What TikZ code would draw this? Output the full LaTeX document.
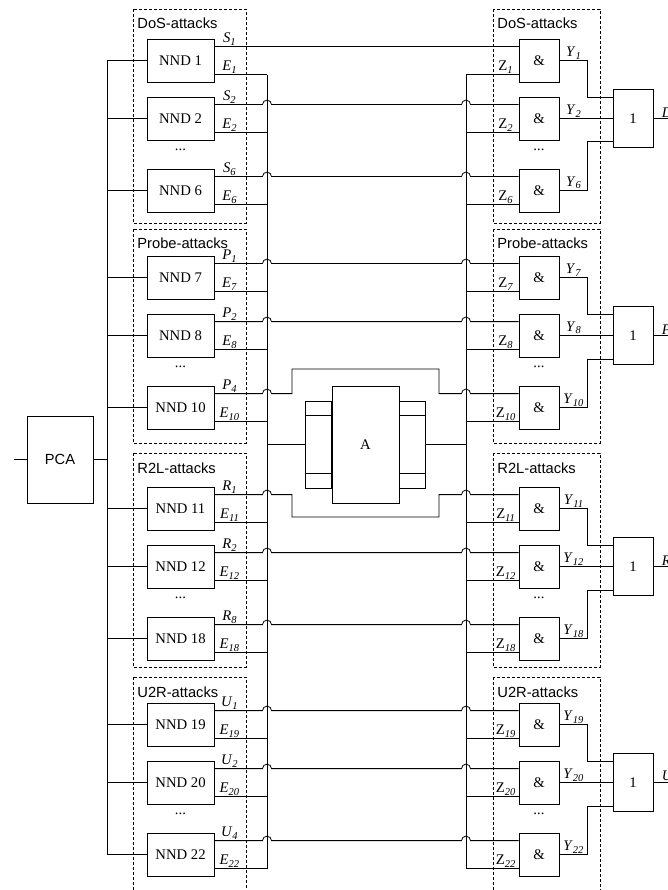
\documentclass[tikz,border=0pt]{standalone}
\usepackage{fontspec}
\setmainfont{Liberation Serif}
\setsansfont{Liberation Sans}
\usetikzlibrary{positioning}

\newcommand{\sgl}[2]{\textit{#1}\raisebox{-0.35ex}{\fontsize{10.5}{10.5}\selectfont\textit{#2}}}
\newcommand{\zsgl}[1]{Z\raisebox{-0.35ex}{\fontsize{10.5}{10.5}\selectfont\textit{#1}}}
\newcommand{\hopover}[1]{-- ([xshift=-4.5pt]#1) arc[start angle=180, end angle=0, radius=4.5]}

\begin{document}
\begin{tikzpicture}[x=1pt, y=1pt, line width=0.8pt,
    txt/.style={font=\fontsize{14.7}{16}\selectfont},
    nnd/.style={draw, txt, minimum width=67pt, minimum height=43pt, inner sep=0pt},
    gate/.style={draw, txt, minimum width=40pt, minimum height=43pt, inner sep=0pt},
    orbox/.style={draw, txt, minimum width=40pt, minimum height=58pt, inner sep=0pt},
    side/.style={draw, minimum width=26pt, minimum height=87pt, inner sep=0pt},
    grp/.style={draw, line width=0.7pt, dash pattern=on 3pt off 2pt},
    grptxt/.style={anchor=base west, inner sep=0pt, font=\sffamily\fontsize{14.7}{16}\selectfont},
    lbl/.style={txt, anchor=south, inner sep=1pt}
  ]
  \useasboundingbox (0,0) rectangle (668,-890);

  \coordinate (bus) at (107,0);
  \coordinate (ebus) at (267,0);
  \coordinate (zbus) at (466,0);
  \coordinate (yv) at (587,0);
  \coordinate (lpA) at (292,-369);
  \coordinate (lpB) at (439,-369);
  \coordinate (lpC) at (292,-517);
  \coordinate (lpD) at (439,-517);

  \node[draw, minimum width=66pt, minimum height=87pt, inner sep=0pt,
    font=\sffamily\fontsize{14.7}{16}\selectfont] (pca) at (60,-459.5) {PCA};
  \coordinate (in) at (14,-459.5);
  \draw (in) -- (pca.west);
  \draw (pca.east) -- (pca.east -| bus);

  \foreach \gi/\gt/\bt/\gname/\sg/\out/\rows in {
      1/9/39/DoS/S/D/{1/1,2/2,6/6},
      2/229/256/Probe/P/P/{7/1,8/2,10/4},
      3/453/487/R2L/R/R/{11/1,12/2,18/8},
      4/677/703/U2R/U/U/{19/1,20/2,22/4}}{
    \draw[grp] (133,-\gt) rectangle (246,{-\gt-214});
    \draw[grp] (493,-\gt) rectangle (600,{-\gt-214});
    \node[grptxt] (gl\gi) at (137,{-\gt-20}) {\gname-attacks};
    \node[grptxt] (gr\gi) at (497,{-\gt-20}) {\gname-attacks};
    \node[txt] (ld\gi) at (180.5,{-\bt-111}) {...};
    \node[txt] (rd\gi) at (539,{-\bt-111}) {...};

    \node[orbox] (or\gi) at (633,{-\bt-79.5}) {1};
    \coordinate (yin\gi) at ([yshift=-8pt]or\gi.north west);
    \coordinate (yout\gi) at ([yshift=6pt]or\gi.south west);
    \coordinate (o\gi) at ([xshift=30pt]or\gi.east);
    \draw (or\gi.east) -- (o\gi);
    \node[txt, anchor=south west, inner sep=1pt] (ol\gi) at ([xshift=7pt]or\gi.east) {\textit{\out}};

    \foreach \n/\s [count=\r] in \rows {
      \pgfmathsetmacro\ytop{\bt+{0,58,130}[\r-1]}
      \node[nnd] (nnd\n) at (180.5,{-\ytop-21.5}) {NND \n};
      \node[gate] (and\n) at (539,{-\ytop-21.5}) {\&};
      \coordinate (s\n) at ([yshift=-8pt]nnd\n.north east);
      \coordinate (e\n) at ([yshift=-36pt]nnd\n.north east);
      \draw (bus |- nnd\n.west) -- (nnd\n.west);
      \draw (e\n) -- (ebus |- e\n);
      \draw (zbus |- e\n) -- (and\n.west |- e\n);
      \node[lbl] at ([xshift=15pt]s\n) {\sgl{\sg}{\s}};
      \node[lbl] at ([xshift=15pt]e\n) {\sgl{E}{\n}};
      \node[lbl] at ([xshift=-13pt]and\n.west |- e\n) {\zsgl{\n}};
      \node[lbl] at ([xshift=14pt]and\n.east) {\sgl{Y}{\n}};
      \ifnum\n=1\relax
        \draw (s\n) -- (and\n.west |- s\n);
      \else\ifnum\n=10\relax
        \draw (s\n) \hopover{ebus |- s\n} -- (lpA |- s\n) -- (lpA) -- (lpB)
          -- (lpB |- s\n) \hopover{zbus |- s\n} -- (and\n.west |- s\n);
      \else\ifnum\n=11\relax
        \draw (s\n) \hopover{ebus |- s\n} -- (lpC |- s\n) -- (lpC) -- (lpD)
          -- (lpD |- s\n) \hopover{zbus |- s\n} -- (and\n.west |- s\n);
      \else
        \draw (s\n) \hopover{ebus |- s\n} \hopover{zbus |- s\n} -- (and\n.west |- s\n);
      \fi\fi\fi
      \ifcase\r\or
        \draw (and\n.east) -- (yv |- and\n.east) -- (yv |- yin\gi) -- (yin\gi);
      \or
        \draw (and\n.east) -- (or\gi.west |- and\n.east);
      \or
        \draw (and\n.east) -- (yv |- and\n.east) -- (yv |- yout\gi) -- (yout\gi);
      \fi
    }
  }

  \draw (bus |- nnd1.west) -- (bus |- nnd22.west);
  \draw (ebus |- e1) -- (ebus |- e22);
  \draw (zbus |- e1) -- (zbus |- e22);

  \node[draw, txt, minimum width=67pt, minimum height=117pt, inner sep=0pt] (blkA) at (365.5,-444.5) {A};
  \node[side, anchor=east] (blkL) at (blkA.west) {};
  \node[side, anchor=west] (blkR) at (blkA.east) {};
  \draw ([yshift=-15pt]blkL.north west) -- ([yshift=-15pt]blkL.north east);
  \draw ([yshift=15pt]blkL.south west) -- ([yshift=15pt]blkL.south east);
  \draw ([yshift=-15pt]blkR.north west) -- ([yshift=-15pt]blkR.north east);
  \draw ([yshift=15pt]blkR.south west) -- ([yshift=15pt]blkR.south east);
  \draw (ebus |- blkL.west) -- (blkL.west);
  \draw (blkR.east) -- (zbus |- blkR.east);
\end{tikzpicture}
\end{document}
